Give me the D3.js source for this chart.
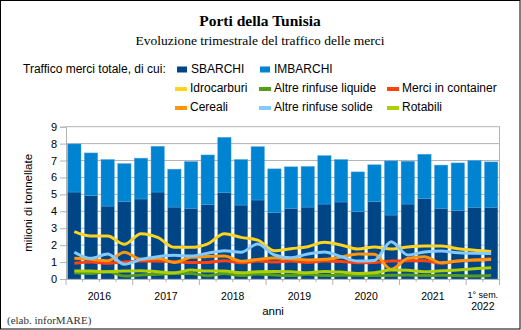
<!DOCTYPE html>
<html>
<head>
<meta charset="utf-8">
<script src="https://cdn.jsdelivr.net/npm/d3@7"></script>
<style>
  html, body { margin: 0; padding: 0; background: #fff; }
  svg { display: block; }
</style>
</head>
<body>
<svg id="chart" width="521" height="330"></svg>
<script>
// Quarterly cargo traffic in Tunisian ports, 2016 – first half 2022 (million tonnes)
const years = ["2016", "2017", "2018", "2019", "2020", "2021", "2022"];
const quarters = [
  "2016-T1","2016-T2","2016-T3","2016-T4",
  "2017-T1","2017-T2","2017-T3","2017-T4",
  "2018-T1","2018-T2","2018-T3","2018-T4",
  "2019-T1","2019-T2","2019-T3","2019-T4",
  "2020-T1","2020-T2","2020-T3","2020-T4",
  "2021-T1","2021-T2","2021-T3","2021-T4",
  "2022-T1","2022-T2"
];
const sbarchi = [5.14,4.94,4.31,4.57,4.73,5.14,4.25,4.18,4.41,5.12,4.37,4.67,3.92,4.18,4.25,4.43,4.55,3.98,4.57,3.78,4.43,4.76,4.18,4.06,4.24,4.24];
const totale  = [7.98,7.45,7.06,6.82,7.14,7.84,6.49,6.94,7.33,8.37,7.06,7.82,6.51,6.63,6.65,7.29,7.06,6.33,6.75,6.98,6.96,7.37,6.73,6.86,7.00,6.92];
const imbarchi = totale.map((t, i) => +(t - sbarchi[i]).toFixed(2));

const idrocarburi     = [2.80,2.54,2.54,2.05,2.68,2.46,1.87,1.87,2.08,2.68,2.46,2.30,1.67,1.79,1.91,2.17,2.01,1.77,1.89,1.77,1.89,1.95,1.95,1.79,1.70,1.62];
const rinfuseLiquide  = [0.37,0.33,0.43,0.18,0.24,0.28,0.33,0.33,0.19,0.33,0.20,0.30,0.24,0.20,0.28,0.20,0.22,0.22,0.20,0.22,0.24,0.20,0.22,0.20,0.18,0.20];
const container       = [0.93,1.00,0.93,1.00,1.06,1.06,1.02,0.98,0.98,1.08,0.96,1.06,1.00,1.06,0.98,1.06,1.04,0.96,0.98,1.06,1.08,1.08,0.93,1.06,1.12,1.20];
const cereali         = [1.22,1.16,1.08,1.58,1.16,1.22,0.98,1.28,1.33,1.36,1.05,1.16,1.24,1.20,1.12,1.16,1.30,1.48,1.46,0.57,1.22,1.32,0.96,1.06,1.12,1.16];
const rinfuseSolide   = [1.58,1.22,1.48,0.87,1.16,1.32,1.40,1.36,1.52,1.67,1.58,2.07,1.42,1.26,1.48,1.60,1.32,1.06,1.10,2.20,1.42,1.60,1.65,1.55,1.52,1.50];
const rotabili        = [0.47,0.47,0.43,0.47,0.49,0.43,0.37,0.53,0.47,0.47,0.37,0.43,0.45,0.43,0.37,0.45,0.41,0.33,0.37,0.53,0.51,0.43,0.49,0.53,0.61,0.67];

const yTicks = [0,1,2,3,4,5,6,7,8,9];

const barSeries = [
  { name: "SBARCHI",  color: "#004586" },
  { name: "IMBARCHI", color: "#0084d1" }
];
const lineSeries = [
  { name: "Idrocarburi",            color: "#ffd320", values: idrocarburi },
  { name: "Altre rinfuse liquide",  color: "#579d1c", values: rinfuseLiquide },
  { name: "Merci in container",     color: "#ff420e", values: container },
  { name: "Cereali",                color: "#ff950e", values: cereali },
  { name: "Altre rinfuse solide",   color: "#83caff", values: rinfuseSolide },
  { name: "Rotabili",               color: "#aecf00", values: rotabili }
];

const svg = d3.select("#chart");
const W = 521, H = 330;
const plot = { left: 66, right: 499.5, top: 126.7, bottom: 279 };
const sans = "'Liberation Sans', Arial, sans-serif";
const serif = "'Liberation Serif', 'Times New Roman', serif";

// frame
svg.append("rect").attr("x", 0.5).attr("y", 0.5).attr("width", W - 1.5).attr("height", H - 1.5)
  .attr("fill", "#fff").attr("stroke", "#000").attr("stroke-width", 1);

// titles
svg.append("text").attr("x", 260).attr("y", 26).attr("text-anchor", "middle")
  .attr("font-family", serif).attr("font-weight", "bold").attr("font-size", 15.5)
  .text("Porti della Tunisia");
svg.append("text").attr("x", 260).attr("y", 45).attr("text-anchor", "middle")
  .attr("font-family", serif).attr("font-size", 13.5)
  .text("Evoluzione trimestrale del traffico delle merci");

// scales
const x = d3.scaleBand().domain(quarters).range([plot.left, plot.right])
  .paddingInner(0.2).paddingOuter(0.1);
const y = d3.scaleLinear().domain([0, 9]).range([plot.bottom, plot.top]);

// gridlines
svg.append("g").selectAll("line").data(yTicks.filter(d => d > 0)).join("line")
  .attr("x1", plot.left).attr("x2", plot.right)
  .attr("y1", d => y(d)).attr("y2", d => y(d))
  .attr("stroke", "#b3b3b3").attr("stroke-width", 1);
svg.append("line").attr("x1", plot.right).attr("x2", plot.right)
  .attr("y1", y(9)).attr("y2", plot.bottom).attr("stroke", "#b3b3b3");

// stacked bars
const stackData = quarters.map((q, i) => ({ q, SBARCHI: sbarchi[i], IMBARCHI: imbarchi[i] }));
const stacked = d3.stack().keys(barSeries.map(s => s.name))(stackData);
svg.append("g").selectAll("g").data(stacked).join("g")
  .attr("fill", (d, i) => barSeries[i].color)
  .selectAll("rect").data(d => d).join("rect")
  .attr("x", d => x(d.data.q))
  .attr("width", x.bandwidth())
  .attr("y", d => y(d[1]))
  .attr("height", d => y(d[0]) - y(d[1]))
  .attr("stroke", "#4aa3dd").attr("stroke-width", 0.6).attr("stroke-opacity", 0.7);

// lines
const lineGen = d3.line()
  .x((d, i) => x(quarters[i]) + x.bandwidth() / 2)
  .y(d => y(d))
  .curve(d3.curveMonotoneX);
svg.append("g").selectAll("path").data(lineSeries).join("path")
  .attr("d", d => lineGen(d.values))
  .attr("fill", "none").attr("stroke", d => d.color)
  .attr("stroke-width", 3).attr("stroke-linejoin", "round");

// y axis
const yAxis = d3.axisLeft(y).tickValues(yTicks).tickSize(6).tickPadding(3);
const gy = svg.append("g").attr("transform", `translate(${plot.left},0)`).call(yAxis);
gy.select(".domain").attr("stroke", "#b3b3b3");
gy.selectAll(".tick line").attr("stroke", "#b3b3b3");
gy.selectAll(".tick text").attr("font-family", sans).attr("font-size", 11).attr("fill", "#000");

svg.append("text")
  .attr("transform", `translate(32,${(plot.top + plot.bottom) / 2}) rotate(-90)`)
  .attr("text-anchor", "middle").attr("font-family", sans).attr("font-size", 11.5)
  .text("milioni di tonnellate");

// x axis: quarter ticks (short) and year ticks (long)
const step = x.step();
const x0 = plot.left;
const gx = svg.append("g");
gx.append("line").attr("x1", plot.left).attr("x2", plot.right)
  .attr("y1", plot.bottom + 0.5).attr("y2", plot.bottom + 0.5).attr("stroke", "#b3b3b3");
const boundaries = d3.range(quarters.length + 1);
gx.selectAll("line.tk").data(boundaries).join("line").attr("class", "tk")
  .attr("x1", i => x0 + i * step).attr("x2", i => x0 + i * step)
  .attr("y1", plot.bottom)
  .attr("y2", i => plot.bottom + ((i % 4 === 0 || i === quarters.length) ? 6 : 3))
  .attr("stroke", "#b3b3b3");

// year labels centred under each year's quarters
years.forEach((yr, k) => {
  const qs = quarters.filter(q => q.startsWith(yr));
  const cx = (x(qs[0]) + x(qs[qs.length - 1]) + x.bandwidth()) / 2;
  if (qs.length === 4) {
    svg.append("text").attr("x", cx).attr("y", 300).attr("text-anchor", "middle")
      .attr("font-family", sans).attr("font-size", 10.5).text(yr);
  } else {
    svg.append("text").attr("x", cx).attr("y", 298).attr("text-anchor", "middle")
      .attr("font-family", sans).attr("font-size", 9).text("1° sem.");
    svg.append("text").attr("x", cx).attr("y", 310).attr("text-anchor", "middle")
      .attr("font-family", sans).attr("font-size", 10.5).text(yr);
  }
});

svg.append("text").attr("x", 273).attr("y", 315).attr("text-anchor", "middle")
  .attr("font-family", sans).attr("font-size", 11.5).text("anni");

svg.append("text").attr("x", 7).attr("y", 324)
  .attr("font-family", serif).attr("font-size", 11).attr("fill", "#333")
  .text("(elab. inforMARE)");

// legend
const lg = svg.append("g").attr("font-family", sans).attr("font-size", 12);
lg.append("text").attr("x", 23).attr("y", 73).text("Traffico merci totale, di cui:");
const barLegendX = [177, 260];
barSeries.forEach((s, i) => {
  lg.append("rect").attr("x", barLegendX[i]).attr("y", 66.5).attr("width", 10).attr("height", 6).attr("fill", s.color);
  lg.append("text").attr("x", barLegendX[i] + 14).attr("y", 73).text(s.name);
});
const colX = [175, 259, 387];
const rowY = [92, 111];
lineSeries.forEach((s, i) => {
  const cx = colX[i % 3], ry = rowY[Math.floor(i / 3)];
  lg.append("rect").attr("x", cx).attr("y", ry - 5).attr("width", 12).attr("height", 4).attr("fill", s.color);
  lg.append("text").attr("x", cx + 15).attr("y", ry).text(s.name);
});
</script>
</body>
</html>
